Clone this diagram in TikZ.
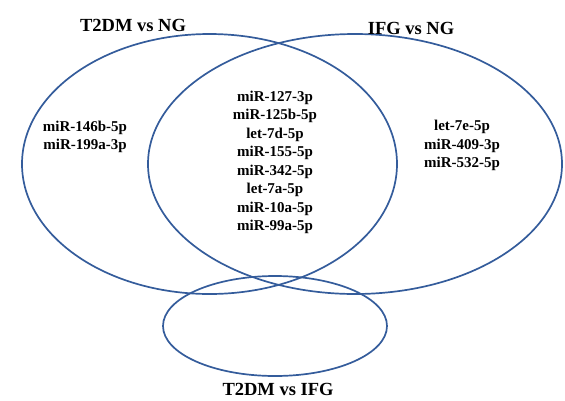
\documentclass[tikz,border=0pt]{standalone}
\usepackage{fontspec}
\setmainfont{Liberation Serif}
\definecolor{vblue}{RGB}{52,92,155}
\tikzset{
  setring/.style={draw=vblue,line width=1.7pt},
  item/.style={font=\fontsize{15}{18.5}\selectfont\bfseries,align=center,inner sep=0pt},
  title/.style={font=\fontsize{18.5}{20}\selectfont\bfseries,inner sep=0pt}
}
\begin{document}
\begin{tikzpicture}[x=1pt,y=-1pt]
\useasboundingbox (0,0) rectangle (565,400);
\draw[setring] (209.5,164) ellipse [x radius=187.5, y radius=130];
\draw[setring] (355,164) ellipse [x radius=207, y radius=130];
\draw[setring] (275,326) ellipse [x radius=112, y radius=50];
\node[title] (t1) at (133,25) {T2DM vs NG};
\node[title] (t2) at (411,28) {IFG vs NG};
\node[title] (t3) at (278,389) {T2DM vs IFG};
\node[item] (left) at (85,137) {miR-146b-5p\\miR-199a-3p};
\node[item] (mid) at (275,162.5) {miR-127-3p\\miR-125b-5p\\let-7d-5p\\miR-155-5p\\miR-342-5p\\let-7a-5p\\miR-10a-5p\\miR-99a-5p};
\node[item] (right) at (462,145.5) {let-7e-5p\\miR-409-3p\\miR-532-5p};
\end{tikzpicture}
\end{document}
